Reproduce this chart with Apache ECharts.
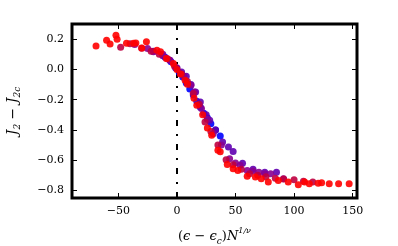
<!DOCTYPE html>
<html>
<head>
<meta charset="utf-8">
<script src="https://cdn.jsdelivr.net/npm/echarts@6/dist/echarts.min.js"></script>
<style>
html,body{margin:0;padding:0;background:#fff;}
#c{width:398px;height:246px;}
</style>
</head>
<body>
<div id="c"></div>
<script>
// ---- data ----
var xTicks = [-50, 0, 50, 100, 150];
var yTicks = [0.2, 0.0, -0.2, -0.4, -0.6, -0.8];

var blueX = [-10, -5, -1, 2, 5, 8, 11, 14, 17, 20, 23, 26, 29, 33, 37];
var blueY = [0.08, 0.05, 0.01, -0.02, -0.05, -0.09, -0.13, -0.17, -0.21, -0.25, -0.29, -0.32, -0.36, -0.40, -0.44];

var violetX = [-20, -12, -6, 0, 4, 8, 12, 16, 20, 25, 28, 33, 39, 44, 48, 56, 65, 75, 85];
var violetY = [0.12, 0.09, 0.06, 0.01, -0.017, -0.045, -0.10, -0.149, -0.215, -0.30, -0.336, -0.40, -0.48, -0.513, -0.542, -0.62, -0.66, -0.68, -0.679];

var purpleX = [-36, -25, -20, -12, -6, 0, 6, 12, 15, 21, 26, 31, 38, 45, 50, 54, 60, 65, 70, 75, 80, 91];
var purpleY = [0.165, 0.138, 0.116, 0.10, 0.061, 0.01, -0.045, -0.105, -0.149, -0.259, -0.33, -0.425, -0.50, -0.59, -0.619, -0.634, -0.668, -0.672, -0.679, -0.689, -0.689, -0.723];

var crimsonX = [-48, -40, -30, -22, -15, -8, -2, 4, 9, 14, 19, 24, 29, 35, 42, 48, 55, 62, 69, 76, 84, 91, 100, 108, 116];
var crimsonY = [0.147, 0.170, 0.14, 0.12, 0.10, 0.07, 0.02, -0.03, -0.08, -0.16, -0.23, -0.348, -0.41, -0.50, -0.597, -0.63, -0.66, -0.69, -0.70, -0.71, -0.72, -0.725, -0.73, -0.74, -0.745];

var redX = [-69, -60, -57, -52, -51, -43, -37, -35, -30, -26, -17, -14, -9, -3, 0, 3, 7, 9, 14.6, 17, 22, 26, 29.7, 35, 37, 43, 48, 52, 60, 67, 72, 78, 86.5, 95, 103.6, 109, 113, 120.6, 123.5, 130, 138, 147];
var redY = [0.154, 0.193, 0.168, 0.226, 0.20, 0.172, 0.172, 0.174, 0.142, 0.182, 0.127, 0.116, 0.072, 0.039, 0.0, -0.03, -0.072, -0.098, -0.19, -0.237, -0.30, -0.387, -0.436, -0.535, -0.545, -0.628, -0.656, -0.668, -0.707, -0.712, -0.723, -0.745, -0.734, -0.745, -0.762, -0.745, -0.756, -0.752, -0.749, -0.756, -0.756, -0.756];

var seriesNames = ['s1', 's2', 's3', 's4', 's5'];
var seriesColors = ['#0000ff', '#6000b0', '#8a0090', '#bf0040', '#ff0000'];
var seriesXs = [blueX, violetX, purpleX, crimsonX, redX];
var seriesYs = [blueY, violetY, purpleY, crimsonY, redY];

// ---- chart ----
function zip(xs, ys) { return xs.map(function (x, i) { return [x, ys[i]]; }); }
function fmtMinus(s) { return String(s).replace('-', '\u2212'); }

var FONT = 'DejaVu Serif';
var series = seriesNames.map(function (n, k) {
  var s = {
    name: n, type: 'scatter', xAxisIndex: 0, yAxisIndex: 0,
    symbolSize: 7,
    itemStyle: { color: seriesColors[k], opacity: 0.9 },
    data: zip(seriesXs[k], seriesYs[k]),
    z: 3 + k
  };
  if (k === 0) {
    s.markLine = {
      silent: true, symbol: ['none', 'none'], label: { show: false },
      lineStyle: { color: '#000', width: 2, type: [6, 8, 2, 8] },
      data: [{ xAxis: 0 }], z: 1
    };
  }
  return s;
});

function tick(vals) { return { customValues: vals, inside: true, length: 5, lineStyle: { color: '#000', width: 1 } }; }
var noLine = { show: false, onZero: false };

var chart = echarts.init(document.getElementById('c'), null, { renderer: 'canvas' });
chart.setOption({
  animation: false,
  backgroundColor: '#fff',
  grid: { left: 72, right: 41, top: 24, bottom: 48, outerBoundsMode: 'none', containLabel: false, show: true, borderColor: '#000', borderWidth: 3, backgroundColor: 'transparent', z: 10 },
  xAxis: [{
    type: 'value', position: 'bottom', min: -89.5, max: 153.7,
    axisLine: noLine, splitLine: { show: false },
    axisTick: tick(xTicks),
    axisLabel: { customValues: xTicks, color: '#000', fontFamily: FONT, fontSize: 11, margin: 8, formatter: function (v) { return fmtMinus(v); } },
    name: '{p|(}{i|\u03f5}{p| \u2212 }{i|\u03f5}{s|c}{p|)}{i|N}{f|1/\u03bd}',
    nameLocation: 'middle', nameGap: 29,
    nameTextStyle: {
      color: '#000', fontFamily: FONT, fontSize: 13,
      rich: {
        p: { fontFamily: FONT, fontSize: 13, color: '#000', lineHeight: 20, verticalAlign: 'middle' },
        i: { fontFamily: FONT, fontStyle: 'italic', fontSize: 13, color: '#000', lineHeight: 20, verticalAlign: 'middle' },
        s: { fontFamily: FONT, fontStyle: 'italic', fontSize: 9, color: '#000', lineHeight: 20, verticalAlign: 'bottom', padding: [0, 0, 1, 0] },
        f: { fontFamily: FONT, fontStyle: 'italic', fontSize: 8, color: '#000', lineHeight: 20, verticalAlign: 'top' }
      }
    }
  }, {
    type: 'value', position: 'top', min: -89.5, max: 153.7,
    axisLine: noLine, splitLine: { show: false },
    axisTick: tick(xTicks),
    axisLabel: { show: false }
  }],
  yAxis: [{
    type: 'value', position: 'left', min: -0.85, max: 0.3,
    axisLine: noLine, splitLine: { show: false },
    axisTick: tick(yTicks),
    axisLabel: { customValues: yTicks, color: '#000', fontFamily: FONT, fontSize: 11, margin: 8, formatter: function (v) { return fmtMinus(v.toFixed(1)); } },
    name: '{i|J}{s|2}{p| \u2212 }{i|J}{s|2c}',
    nameLocation: 'middle', nameRotate: 90, nameGap: 49,
    nameTextStyle: {
      color: '#000', fontFamily: FONT, fontSize: 14,
      rich: {
        p: { fontFamily: FONT, fontSize: 14, color: '#000', lineHeight: 20, verticalAlign: 'middle' },
        i: { fontFamily: FONT, fontStyle: 'italic', fontSize: 14, color: '#000', lineHeight: 20, verticalAlign: 'middle' },
        s: { fontFamily: FONT, fontStyle: 'italic', fontSize: 9, color: '#000', lineHeight: 20, verticalAlign: 'bottom', padding: [0, 0, 1, 0] }
      }
    }
  }, {
    type: 'value', position: 'right', min: -0.85, max: 0.3,
    axisLine: noLine, splitLine: { show: false },
    axisTick: tick(yTicks),
    axisLabel: { show: false }
  }],
  series: series
});
</script>
</body>
</html>
